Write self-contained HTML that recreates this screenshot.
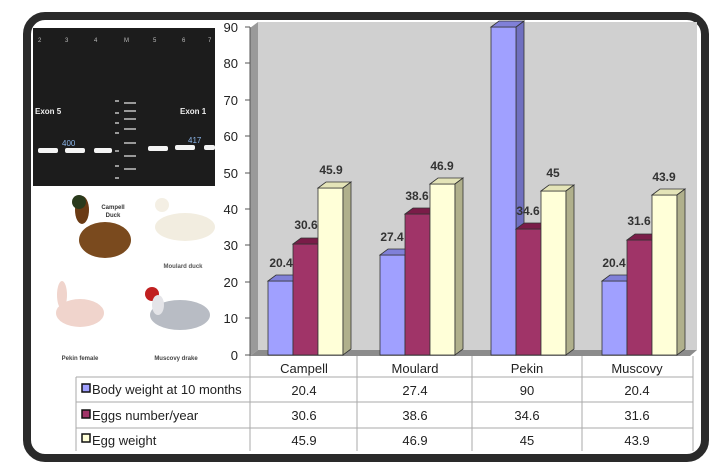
<!DOCTYPE html>
<html><head><style>
body{margin:0;width:717px;height:467px;background:#fff;overflow:hidden}
svg{display:block}
text{font-family:"Liberation Sans",sans-serif}
</style></head><body>
<svg width="717" height="467" viewBox="0 0 717 467">
<defs>
<radialGradient id="band" cx="50%" cy="50%" r="50%"><stop offset="0" stop-color="#fff"/><stop offset="0.6" stop-color="#eee"/><stop offset="1" stop-color="#222" stop-opacity="0"/></radialGradient>
</defs>
<!-- frame -->
<rect x="27" y="16" width="678" height="442" rx="18" fill="#fff" stroke="#2a2a2a" stroke-width="8"/>
<!-- plot background -->
<rect x="258" y="22" width="439" height="328" fill="#d0d0d0"/>
<polygon points="250,28 258,22 258,350 250,356" fill="#9a9a9a"/>
<polygon points="250,356 258,350 697,350 690,356" fill="#8c8c8c"/>
<!-- axis -->
<line x1="250" y1="27" x2="250" y2="356" stroke="#555" stroke-width="1"/>
<g font-size="13" fill="#222" text-anchor="end">
<text x="238" y="32">90</text><text x="238" y="68">80</text><text x="238" y="105">70</text><text x="238" y="141">60</text><text x="238" y="178">50</text><text x="238" y="214">40</text><text x="238" y="250">30</text><text x="238" y="287">20</text><text x="238" y="323">10</text><text x="238" y="360">0</text>
</g>
<g stroke="#555"><line x1="245" y1="27" x2="250" y2="27"/><line x1="245" y1="63" x2="250" y2="63"/><line x1="245" y1="100" x2="250" y2="100"/><line x1="245" y1="136" x2="250" y2="136"/><line x1="245" y1="173" x2="250" y2="173"/><line x1="245" y1="209" x2="250" y2="209"/><line x1="245" y1="245" x2="250" y2="245"/><line x1="245" y1="282" x2="250" y2="282"/><line x1="245" y1="318" x2="250" y2="318"/><line x1="245" y1="355" x2="250" y2="355"/></g>
<!-- bars: base y=355, scale 3.644 -->
<g stroke="#333" stroke-width="0.8">
<!-- Campell -->
<rect x="268" y="281" width="25" height="74" fill="#a0a0ff"/><polygon points="268,281 276,275 301,275 293,281" fill="#8080d8"/>
<rect x="293" y="244" width="25" height="111" fill="#a03468"/><polygon points="293,244 301,238 326,238 318,244" fill="#7a1c48"/>
<rect x="318" y="188" width="25" height="167" fill="#ffffd8"/><polygon points="318,188 326,182 351,182 343,188" fill="#e4e4b8"/><polygon points="343,188 351,182 351,349 343,355" fill="#b0b08c"/>
<!-- Moulard -->
<rect x="380" y="255" width="25" height="100" fill="#a0a0ff"/><polygon points="380,255 388,249 413,249 405,255" fill="#8080d8"/>
<rect x="405" y="214" width="25" height="141" fill="#a03468"/><polygon points="405,214 413,208 438,208 430,214" fill="#7a1c48"/>
<rect x="430" y="184" width="25" height="171" fill="#ffffd8"/><polygon points="430,184 438,178 463,178 455,184" fill="#e4e4b8"/><polygon points="455,184 463,178 463,349 455,355" fill="#b0b08c"/>
<!-- Pekin -->
<polygon points="516,27 524,21 524,349 516,355" fill="#7070c0"/>
<rect x="491" y="27" width="25" height="328" fill="#a0a0ff"/><polygon points="491,27 499,21 524,21 516,27" fill="#8080d8"/>
<rect x="516" y="229" width="25" height="126" fill="#a03468"/><polygon points="516,229 524,223 549,223 541,229" fill="#7a1c48"/>
<rect x="541" y="191" width="25" height="164" fill="#ffffd8"/><polygon points="541,191 549,185 574,185 566,191" fill="#e4e4b8"/><polygon points="566,191 574,185 574,349 566,355" fill="#b0b08c"/>
<!-- Muscovy -->
<rect x="602" y="281" width="25" height="74" fill="#a0a0ff"/><polygon points="602,281 610,275 635,275 627,281" fill="#8080d8"/>
<rect x="627" y="240" width="25" height="115" fill="#a03468"/><polygon points="627,240 635,234 660,234 652,240" fill="#7a1c48"/>
<rect x="652" y="195" width="25" height="160" fill="#ffffd8"/><polygon points="652,195 660,189 685,189 677,195" fill="#e4e4b8"/><polygon points="677,195 685,189 685,349 677,355" fill="#b0b08c"/>
</g>
<g font-size="12" font-weight="bold" fill="#333" text-anchor="middle">
<text x="281" y="267">20.4</text><text x="306" y="229">30.6</text><text x="331" y="174">45.9</text>
<text x="392" y="241">27.4</text><text x="417" y="200">38.6</text><text x="442" y="170">46.9</text>
<text x="528" y="215">34.6</text><text x="553" y="177">45</text>
<text x="614" y="267">20.4</text><text x="639" y="225">31.6</text><text x="664" y="181">43.9</text>
</g>
<!-- table -->
<g stroke="#aaa" stroke-width="1" fill="none">
<line x1="250" y1="356" x2="250" y2="451"/><line x1="357" y1="356" x2="357" y2="451"/><line x1="472" y1="356" x2="472" y2="451"/><line x1="582" y1="356" x2="582" y2="451"/><line x1="693" y1="356" x2="693" y2="451"/>
<line x1="76" y1="377" x2="693" y2="377"/><line x1="76" y1="402" x2="693" y2="402"/><line x1="76" y1="428" x2="693" y2="428"/>
<line x1="76" y1="377" x2="76" y2="451"/>
</g>
<g font-size="13" fill="#222" text-anchor="middle">
<text x="304" y="373">Campell</text><text x="415" y="373">Moulard</text><text x="527" y="373">Pekin</text><text x="637" y="373">Muscovy</text>
<text x="304" y="395">20.4</text><text x="415" y="395">27.4</text><text x="527" y="395">90</text><text x="637" y="395">20.4</text>
<text x="304" y="420">30.6</text><text x="415" y="420">38.6</text><text x="527" y="420">34.6</text><text x="637" y="420">31.6</text>
<text x="304" y="445">45.9</text><text x="415" y="445">46.9</text><text x="527" y="445">45</text><text x="637" y="445">43.9</text>
</g>
<rect x="82" y="384" width="8" height="8" fill="#a0a0ff" stroke="#111" stroke-width="1.5"/>
<rect x="82" y="410" width="8" height="8" fill="#a03468" stroke="#111" stroke-width="1.5"/>
<rect x="82" y="434" width="8" height="8" fill="#ffffd8" stroke="#111" stroke-width="1.5"/>
<g font-size="13" fill="#222">
<text x="92" y="394">Body weight at 10 months</text>
<text x="92" y="420">Eggs number/year</text>
<text x="92" y="445">Egg weight</text>
</g>
<!-- gel image -->
<rect x="33" y="28" width="182" height="158" fill="#1c1c1c"/>
<g font-size="6" fill="#bbb"><text x="38" y="42">2</text><text x="65" y="42">3</text><text x="94" y="42">4</text><text x="124" y="42">M</text><text x="153" y="42">5</text><text x="182" y="42">6</text><text x="208" y="42">7</text></g>
<g font-size="8" font-weight="bold" fill="#eee"><text x="35" y="114">Exon 5</text><text x="180" y="114">Exon 1</text></g>
<g font-size="8" fill="#8ab4e8"><text x="62" y="146">400</text><text x="188" y="143">417</text></g>
<g fill="#f4f4f4"><rect x="38" y="148" width="20" height="5" rx="2"/><rect x="65" y="148" width="20" height="5" rx="2"/><rect x="94" y="148" width="18" height="5" rx="2"/><rect x="148" y="146" width="20" height="5" rx="2"/><rect x="175" y="145" width="20" height="5" rx="2"/><rect x="204" y="145" width="11" height="5" rx="2"/></g>
<g fill="#999"><rect x="115" y="100" width="4" height="2"/><rect x="115" y="112" width="4" height="2"/><rect x="115" y="122" width="4" height="2"/><rect x="115" y="132" width="4" height="2"/><rect x="115" y="150" width="4" height="2"/><rect x="115" y="165" width="4" height="2"/><rect x="115" y="177" width="4" height="2"/>
<rect x="124" y="102" width="12" height="2"/><rect x="124" y="110" width="12" height="2"/><rect x="124" y="118" width="12" height="2"/><rect x="124" y="128" width="12" height="2"/><rect x="124" y="142" width="12" height="2"/><rect x="124" y="155" width="12" height="2"/><rect x="124" y="168" width="12" height="2"/></g>
<!-- ducks -->
<ellipse cx="105" cy="240" rx="26" ry="18" fill="#7a4a1e"/><ellipse cx="82" cy="210" rx="7" ry="14" fill="#6a3a14"/><circle cx="79" cy="202" r="7" fill="#2a3a1c"/>
<text x="113" y="209" font-size="6" font-weight="bold" fill="#333" text-anchor="middle">Campell</text><text x="113" y="217" font-size="6" font-weight="bold" fill="#333" text-anchor="middle">Duck</text>
<ellipse cx="185" cy="227" rx="30" ry="14" fill="#f2ede0"/><circle cx="162" cy="205" r="7" fill="#f4efe4"/>
<text x="183" y="268" font-size="6" font-weight="bold" fill="#555" text-anchor="middle">Moulard duck</text>
<ellipse cx="80" cy="313" rx="24" ry="14" fill="#f0d4cc"/><ellipse cx="62" cy="295" rx="5" ry="14" fill="#f0d4cc"/>
<ellipse cx="180" cy="315" rx="30" ry="15" fill="#b8bcc4"/><circle cx="152" cy="294" r="7" fill="#c02020"/><ellipse cx="158" cy="305" rx="6" ry="10" fill="#e4e4e8"/>
<text x="80" y="360" font-size="6" font-weight="bold" fill="#444" text-anchor="middle">Pekin female</text>
<text x="176" y="360" font-size="6" font-weight="bold" fill="#444" text-anchor="middle">Muscovy drake</text>
</svg>
</body></html>
